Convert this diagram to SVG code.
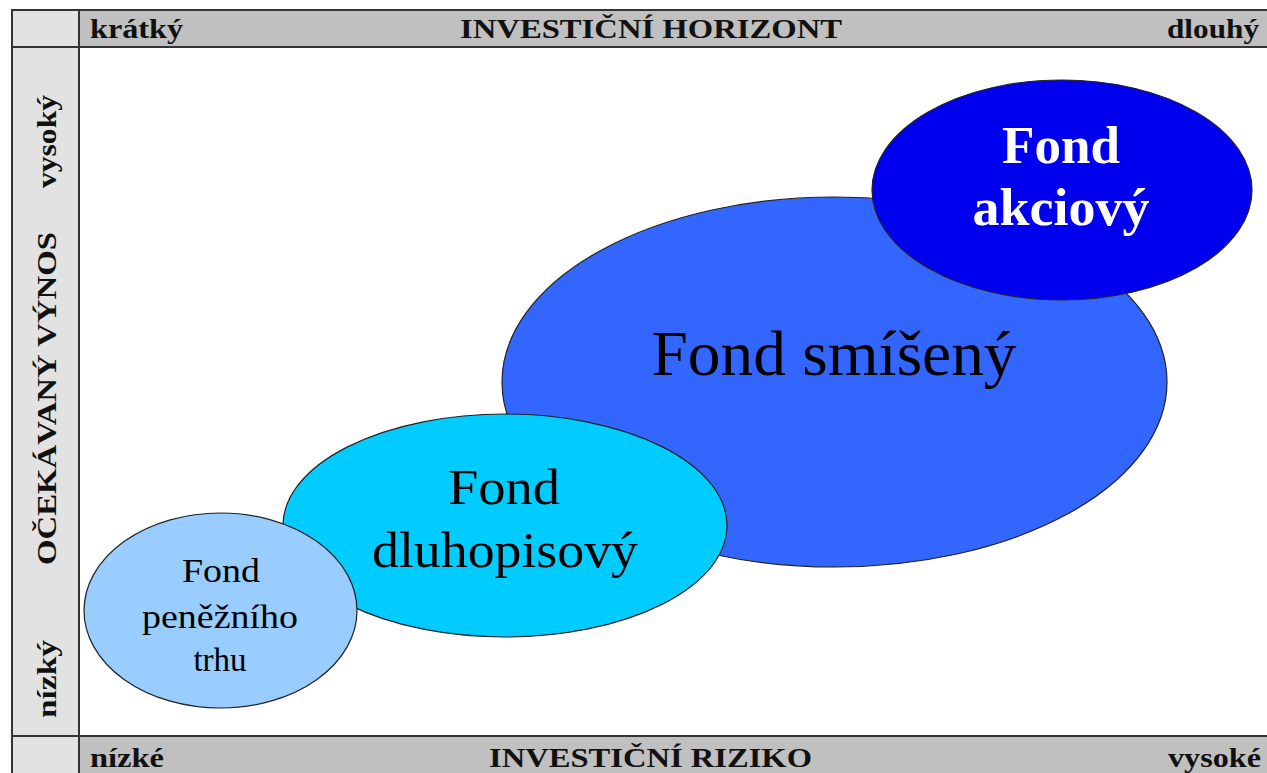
<svg xmlns="http://www.w3.org/2000/svg" width="1267" height="773" viewBox="0 0 1267 773">
<style>
.hdr{font-family:"Liberation Serif","Times New Roman",serif;font-weight:bold;font-size:28px;fill:#111}
.side{font-family:"Liberation Serif","Times New Roman",serif;font-weight:bold;font-size:28px;fill:#111}
.lbl{font-family:"Liberation Serif","Times New Roman",serif;fill:#000;text-anchor:middle}
.ell{stroke:#222;stroke-width:1.2}
.line{stroke:#333;stroke-width:2;fill:none}
</style>
<rect x="0" y="0" width="1267" height="773" fill="#ffffff"/>
<g id="frame">
<rect x="11" y="9" width="1256" height="38" fill="#c0c0c0"/>
<rect x="11" y="736" width="1256" height="37" fill="#c0c0c0"/>
<rect x="11" y="9" width="68" height="764" fill="#e2e2e2"/>
<line class="line" x1="11" y1="10" x2="1267" y2="10"/>
<line class="line" x1="11" y1="47" x2="1267" y2="47"/>
<line class="line" x1="11" y1="736" x2="1267" y2="736"/>
<line class="line" x1="12" y1="9" x2="12" y2="773"/>
<line class="line" x1="79" y1="9" x2="79" y2="773"/>
</g>
<g id="axis-top">
<text class="hdr" x="90" y="38" textLength="93" lengthAdjust="spacingAndGlyphs">krátký</text>
<text class="hdr" x="460" y="38" textLength="382" lengthAdjust="spacingAndGlyphs">INVESTIČNÍ HORIZONT</text>
<text class="hdr" x="1167" y="38" textLength="92" lengthAdjust="spacingAndGlyphs">dlouhý</text>
</g>
<g id="axis-bottom">
<text class="hdr" x="90" y="767" textLength="74" lengthAdjust="spacingAndGlyphs">nízké</text>
<text class="hdr" x="489" y="767" textLength="323" lengthAdjust="spacingAndGlyphs">INVESTIČNÍ RIZIKO</text>
<text class="hdr" x="1168" y="767" textLength="93" lengthAdjust="spacingAndGlyphs">vysoké</text>
</g>
<g id="axis-left">
<text class="side" transform="translate(56,188) rotate(-90)" textLength="93" lengthAdjust="spacingAndGlyphs">vysoký</text>
<text class="side" transform="translate(56,565) rotate(-90)" textLength="333" lengthAdjust="spacingAndGlyphs">OČEKÁVANÝ VÝNOS</text>
<text class="side" transform="translate(56,718) rotate(-90)" textLength="78" lengthAdjust="spacingAndGlyphs">nízký</text>
</g>
<g id="fond-smiseny">
<ellipse class="ell" cx="834.5" cy="382" rx="332.5" ry="185" fill="#3366ff"/>
<text class="lbl" x="834" y="375" font-size="64" textLength="365" lengthAdjust="spacingAndGlyphs">Fond smíšený</text>
</g>
<g id="fond-akciovy">
<ellipse class="ell" cx="1062" cy="190" rx="190" ry="110" fill="#0000ee"/>
<text class="lbl" x="1061" y="163" font-size="52" font-weight="bold" style="fill:#fff" textLength="118" lengthAdjust="spacingAndGlyphs">Fond</text>
<text class="lbl" x="1061" y="225" font-size="52" font-weight="bold" style="fill:#fff" textLength="177" lengthAdjust="spacingAndGlyphs">akciový</text>
</g>
<g id="fond-dluhopisovy">
<ellipse class="ell" cx="505" cy="525.5" rx="222" ry="111.5" fill="#00ccff"/>
<text class="lbl" x="504" y="504" font-size="50" textLength="112" lengthAdjust="spacingAndGlyphs">Fond</text>
<text class="lbl" x="505" y="567" font-size="50" textLength="266" lengthAdjust="spacingAndGlyphs">dluhopisový</text>
</g>
<g id="fond-penezniho-trhu">
<ellipse class="ell" cx="220.5" cy="610.5" rx="136.5" ry="97.5" fill="#99ccff"/>
<text class="lbl" x="221" y="582" font-size="33" textLength="78" lengthAdjust="spacingAndGlyphs">Fond</text>
<text class="lbl" x="220" y="628" font-size="33" textLength="156" lengthAdjust="spacingAndGlyphs">peněžního</text>
<text class="lbl" x="220" y="671" font-size="33">trhu</text>
</g>
<g id="connectors"></g>
</svg>
